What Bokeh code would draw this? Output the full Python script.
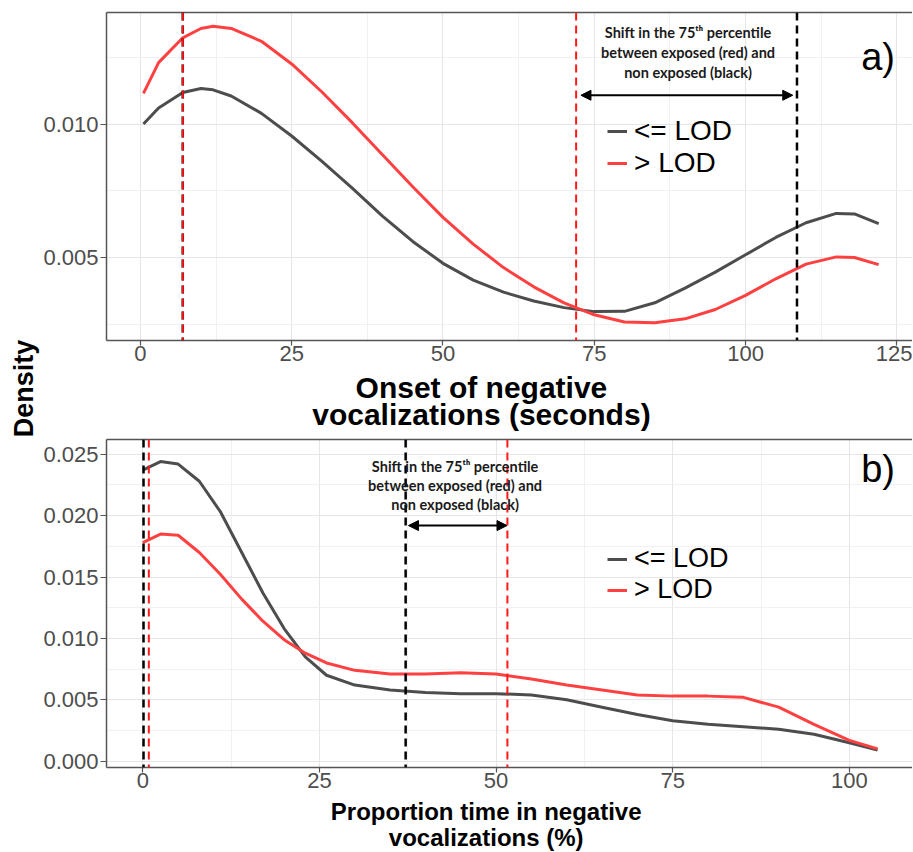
import math
from bokeh.plotting import figure
from bokeh.models import (FixedTicker, PrintfTickFormatter, LinearAxis, Span, Label,
                          Arrow, NormalHead, Legend, LegendItem, Range1d)
from bokeh.layouts import column, row
from bokeh.embed import file_html
from bokeh.resources import INLINE
from bokeh.core.properties import value

# ---------------- data: panel a (onset, seconds) ----------------
a_x = [0.5, 3, 7, 10, 12, 15, 20, 25, 30, 35, 40, 45, 50, 55, 60, 65, 70, 75, 80, 85,
       90, 95, 100, 105, 110, 115, 118, 122]
a_low = [0.01000, 0.01060, 0.01118, 0.01133, 0.01128, 0.01105, 0.01040, 0.00955, 0.00860,
         0.00760, 0.00655, 0.00560, 0.00478, 0.00415, 0.00370, 0.00337, 0.00312, 0.00297,
         0.00298, 0.00330, 0.00385, 0.00445, 0.00510, 0.00575, 0.00630, 0.00665, 0.00663,
         0.00627]
a_high = [0.01115, 0.01230, 0.01323, 0.01358, 0.01366, 0.01358, 0.01310, 0.01225, 0.01120,
          0.01005, 0.00885, 0.00765, 0.00650, 0.00550, 0.00462, 0.00390, 0.00330, 0.00285,
          0.00258, 0.00255, 0.00270, 0.00305, 0.00358, 0.00420, 0.00475, 0.00502, 0.00500,
          0.00473]
a_q_low = [7.0, 108.5]     # black dashed lines (non exposed)
a_q_high = [7.0, 72.0]     # red dashed lines (exposed)
a_xticks = [0, 25, 50, 75, 100, 125]
a_yticks = [0.005, 0.010]
a_title = ["Onset of negative", "vocalizations (seconds)"]

# ---------------- data: panel b (proportion, %) ----------------
b_x = [0, 2.5, 5, 8, 11, 14, 17, 20, 23, 26, 30, 35, 40, 45, 50, 55, 60, 65, 70, 75,
       80, 85, 90, 95, 100, 104]
b_low = [0.0237, 0.0244, 0.0242, 0.0228, 0.0203, 0.0170, 0.0137, 0.0108, 0.0085, 0.0070,
         0.0062, 0.0058, 0.0056, 0.0055, 0.0055, 0.0054, 0.0050, 0.0044, 0.0038, 0.0033,
         0.0030, 0.0028, 0.0026, 0.0022, 0.0015, 0.0009]
b_high = [0.0178, 0.0185, 0.0184, 0.0170, 0.0152, 0.0132, 0.0114, 0.0099, 0.0088, 0.0080,
          0.0074, 0.0071, 0.0071, 0.0072, 0.0071, 0.0067, 0.0062, 0.0058, 0.0054, 0.0053,
          0.0053, 0.0052, 0.0044, 0.0030, 0.0017, 0.0010]
b_q_low = [0.1, 37.2]
b_q_high = [0.85, 51.6]
b_xticks = [0, 25, 50, 75, 100]
b_yticks = [0.000, 0.005, 0.010, 0.015, 0.020, 0.025]
b_title = ["Proportion time in negative", "vocalizations (%)"]

series_labels = ["<= LOD", "> LOD"]
y_title = "Density"
shift_text = ["Shift in the 75\u1d57\u02b0 percentile",
              "between exposed (red) and",
              "non exposed (black)"]

GRAY = "#4d4d4d"
RED = "#ff4040"
BORDER = "#555555"
TICKFONT = "Liberation Sans"
TITLEFONT = "Liberation Sans"
NOTEFONT = "Lato"

W_LEFT = 40          # width of the strip holding "Density"
W_MAIN = 872         # width of the panel column
BL = 64              # left border of panels (frame starts at 104 px)


def make_fig(h, xr, yr, xt, yt, border_top, border_bottom):
    p = figure(width=W_MAIN, height=h, output_backend="svg", toolbar_location=None,
               x_range=Range1d(*xr), y_range=Range1d(*yr),
               min_border_left=BL, min_border_right=0,
               min_border_top=border_top, min_border_bottom=border_bottom)
    p.outline_line_color = None
    step_x = xt[1] - xt[0]
    step_y = yt[1] - yt[0]
    xminor = [t + step_x / 2 for t in xt]
    yminor = [yt[0] - step_y / 2] + [t + step_y / 2 for t in yt]
    p.xaxis.ticker = FixedTicker(ticks=xt, minor_ticks=xminor)
    p.yaxis.ticker = FixedTicker(ticks=yt, minor_ticks=yminor)
    p.yaxis.formatter = PrintfTickFormatter(format="%.3f")
    p.xaxis.formatter = PrintfTickFormatter(format="%d")
    for ax in (p.xaxis[0], p.yaxis[0]):
        ax.axis_line_color = BORDER
        ax.axis_line_width = 1.5
        ax.major_tick_line_color = BORDER
        ax.major_tick_line_width = 1.2
        ax.major_tick_in = 0
        ax.minor_tick_line_color = None
        ax.major_label_text_font = TICKFONT
        ax.major_label_text_font_size = "22px"
        ax.major_label_text_color = "#4d4d4d"
    p.xaxis[0].major_tick_out = 5
    p.xaxis[0].major_label_standoff = 0
    p.yaxis[0].major_tick_out = 6
    p.yaxis[0].major_label_standoff = 2
    for g in (p.xgrid[0], p.ygrid[0]):
        g.grid_line_color = "#e6e6e6"
        g.grid_line_width = 1.1
        g.minor_grid_line_color = "#eeeeee"
        g.minor_grid_line_width = 0.8
    top = LinearAxis(ticker=FixedTicker(ticks=[]), major_tick_out=0, major_tick_in=0,
                     major_label_standoff=0, major_label_text_font_size="0px",
                     axis_line_color=BORDER, axis_line_width=1.5,
                     major_tick_line_color=None, minor_tick_line_color=None)
    p.add_layout(top, "above")
    return p


def title_fig(h, xr, lines, x_center, ys_from_top, size):
    t = figure(width=W_MAIN, height=h, output_backend="svg", toolbar_location=None,
               x_range=xr, y_range=Range1d(0, h), x_axis_type=None, y_axis_type=None,
               min_border_left=BL, min_border_right=0, min_border_top=0,
               min_border_bottom=0)
    t.outline_line_color = None
    t.grid.visible = False
    t.text(x=[x_center] * len(lines), y=[h - yy for yy in ys_from_top], text=lines,
           text_align="center", text_baseline="middle", text_font=value(TITLEFONT),
           text_font_style="bold", text_font_size=size, text_color="black")
    return t


def one_legend(label, renderer, loc, size):
    return Legend(items=[LegendItem(label=label, renderers=[renderer])],
                  location=loc, orientation="vertical",
                  label_text_font=TICKFONT, label_text_font_size=size,
                  label_text_color="black", glyph_width=20, glyph_height=20,
                  label_standoff=7, label_height=20, padding=0, margin=0, spacing=0,
                  background_fill_alpha=0, border_line_color=None)


def add_panel(p, x, low, high, q_low, q_high, arrow, text_xy, text_dy, legend_locs,
              legend_size, panel_tag, tag_xy, tag_size):
    r_low = p.line(x, low, line_color=GRAY, line_width=3)
    r_high = p.line(x, high, line_color=RED, line_width=3)
    for q in q_low:
        p.add_layout(Span(location=q, dimension="height", line_color="black",
                          line_width=2.5, line_dash="8 5"))
    for q in q_high:
        p.add_layout(Span(location=q, dimension="height", line_color="#ff1a1a",
                          line_width=2, line_dash="8 5"))
    p.add_layout(Arrow(x_start=arrow[0], x_end=arrow[1], y_start=arrow[2], y_end=arrow[2],
                       line_width=2, line_color="black",
                       start=NormalHead(size=10, fill_color="black", line_color="black"),
                       end=NormalHead(size=10, fill_color="black", line_color="black")))
    for i, t in enumerate(shift_text):
        p.add_layout(Label(x=text_xy[0], y=text_xy[1] - i * text_dy, text=t,
                           text_align="center", text_baseline="middle",
                           text_font=NOTEFONT, text_font_style="bold",
                           text_font_size="14.5px", text_color="#1a1a1a"))
    p.add_layout(one_legend(series_labels[0], r_low, legend_locs[0], legend_size))
    p.add_layout(one_legend(series_labels[1], r_high, legend_locs[1], legend_size))
    p.add_layout(Label(x=tag_xy[0], y=tag_xy[1], text=panel_tag, text_align="center",
                       text_baseline="alphabetic", text_font=TICKFONT,
                       text_font_size=tag_size, text_color="black"))
    return p


# ---------- panel a : page y 0..370 (frame 12..340) ----------
pa = make_fig(370, (-5.607, 127.59), (0.001888, 0.014178), a_xticks, a_yticks, 12, 30)
add_panel(pa, a_x, a_low, a_high, a_q_low, a_q_high,
          arrow=(72.8, 107.8, 0.011077), text_xy=(90.5, 0.013440), text_dy=0.000751,
          legend_locs=[(501, 193), (501, 161)], legend_size="28px",
          panel_tag="a)", tag_xy=(121.9, 0.012502), tag_size="38px")
ta = title_fig(67, pa.x_range, a_title, 56.35, [17, 44], "30px")

# ---------- panel b : page y 437..797 (frame 439..767) ----------
pb = make_fig(360, (-5.14, 108.94), (-0.000513, 0.0262), b_xticks, b_yticks, 2, 30)
add_panel(pb, b_x, b_low, b_high, b_q_low, b_q_high,
          arrow=(37.6, 51.55, 0.01919), text_xy=(44.2, 0.0240), text_dy=0.00155,
          legend_locs=[(501, 193), (501, 162)], legend_size="27px",
          panel_tag="b)", tag_xy=(104.07, 0.023835), tag_size="38px")
tb = title_fig(54, pb.x_range, b_title, 48.6, [13.5, 40], "24px")

# ---------- "Density" strip ----------
H_ALL = 370 + 67 + 360 + 54
dens = figure(width=W_LEFT, height=H_ALL, output_backend="svg", toolbar_location=None,
              x_range=Range1d(0, W_LEFT), y_range=Range1d(0, H_ALL),
              x_axis_type=None, y_axis_type=None, min_border=0)
dens.outline_line_color = None
dens.grid.visible = False
dens.text(x=[23], y=[H_ALL - 388], text=[y_title], angle=math.pi / 2,
          text_align="center", text_baseline="middle", text_font=value(TITLEFONT),
          text_font_style="bold", text_font_size="27px", text_color="black")

layout = row(dens, column(pa, ta, pb, tb, spacing=0), spacing=0)
open("out.html", "w").write(file_html(layout, INLINE))
